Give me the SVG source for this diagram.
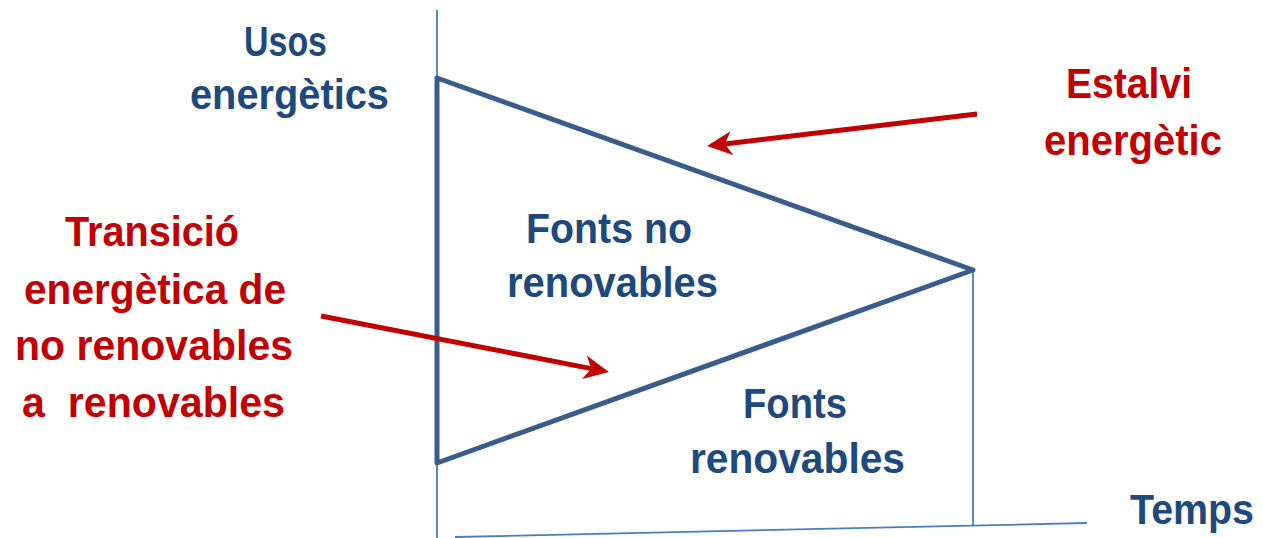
<svg xmlns="http://www.w3.org/2000/svg" width="1263" height="538" viewBox="0 0 1263 538">
<style>
  text { font-family: "Liberation Sans", Arial, sans-serif; font-weight: bold; font-size: 43px; text-anchor: middle; }
  .blue { fill: #1f497d; }
  .red { fill: #c00000; }
  .axis { stroke: #4a7ebb; stroke-width: 1.8; fill: none; }
  .tri { stroke: #385d8a; stroke-width: 5; fill: none; stroke-linejoin: round; }
  .arrow { stroke: #c00000; stroke-width: 5; fill: none; }
</style>
<defs>
  <marker id="head" markerUnits="userSpaceOnUse" viewBox="0 -13 26 26" markerWidth="26" markerHeight="26" refX="7" refY="0" orient="auto">
    <path d="M0,-12 L25,0 L0,12 L7,0 Z" fill="#c00000"/>
  </marker>
</defs>
<g id="axes">
  <line class="axis" x1="437" y1="10" x2="437" y2="538"/>
  <line class="axis" x1="973" y1="270" x2="973" y2="525"/>
  <line class="axis" x1="455" y1="537" x2="1087" y2="523"/>
</g>
<g id="triangle">
  <polygon class="tri" points="437,78 973,270 437,463"/>
</g>
<g id="connectors">
  <line class="arrow" x1="977" y1="114" x2="724.9" y2="143.9" marker-end="url(#head)"/>
  <line class="arrow" x1="321" y1="316" x2="591.3" y2="368.6" marker-end="url(#head)"/>
</g>
<g id="usos">
  <text class="blue" x="285.5" y="56" textLength="83" lengthAdjust="spacingAndGlyphs">Usos</text>
  <text class="blue" x="289.5" y="109" textLength="199" lengthAdjust="spacingAndGlyphs">energètics</text>
</g>
<g id="estalvi">
  <text class="red" x="1129" y="98" textLength="126" lengthAdjust="spacingAndGlyphs">Estalvi</text>
  <text class="red" x="1133" y="155" textLength="178" lengthAdjust="spacingAndGlyphs">energètic</text>
</g>
<g id="transicio">
  <text class="red" x="152" y="246" textLength="174" lengthAdjust="spacingAndGlyphs">Transició</text>
  <text class="red" x="155" y="304" textLength="262" lengthAdjust="spacingAndGlyphs">energètica de</text>
  <text class="red" x="154" y="360" textLength="278" lengthAdjust="spacingAndGlyphs">no renovables</text>
  <text class="red" x="153.5" y="417" textLength="263" lengthAdjust="spacingAndGlyphs" xml:space="preserve">a  renovables</text>
</g>
<g id="no-renovables">
  <text class="blue" x="609" y="243" textLength="166" lengthAdjust="spacingAndGlyphs">Fonts no</text>
  <text class="blue" x="612.5" y="297" textLength="211" lengthAdjust="spacingAndGlyphs">renovables</text>
</g>
<g id="renovables">
  <text class="blue" x="795" y="418" textLength="104" lengthAdjust="spacingAndGlyphs">Fonts</text>
  <text class="blue" x="797.5" y="473" textLength="215" lengthAdjust="spacingAndGlyphs">renovables</text>
</g>
<g id="temps">
  <text class="blue" x="1192" y="524" font-size="41" textLength="124" lengthAdjust="spacingAndGlyphs">Temps</text>
</g>
</svg>
